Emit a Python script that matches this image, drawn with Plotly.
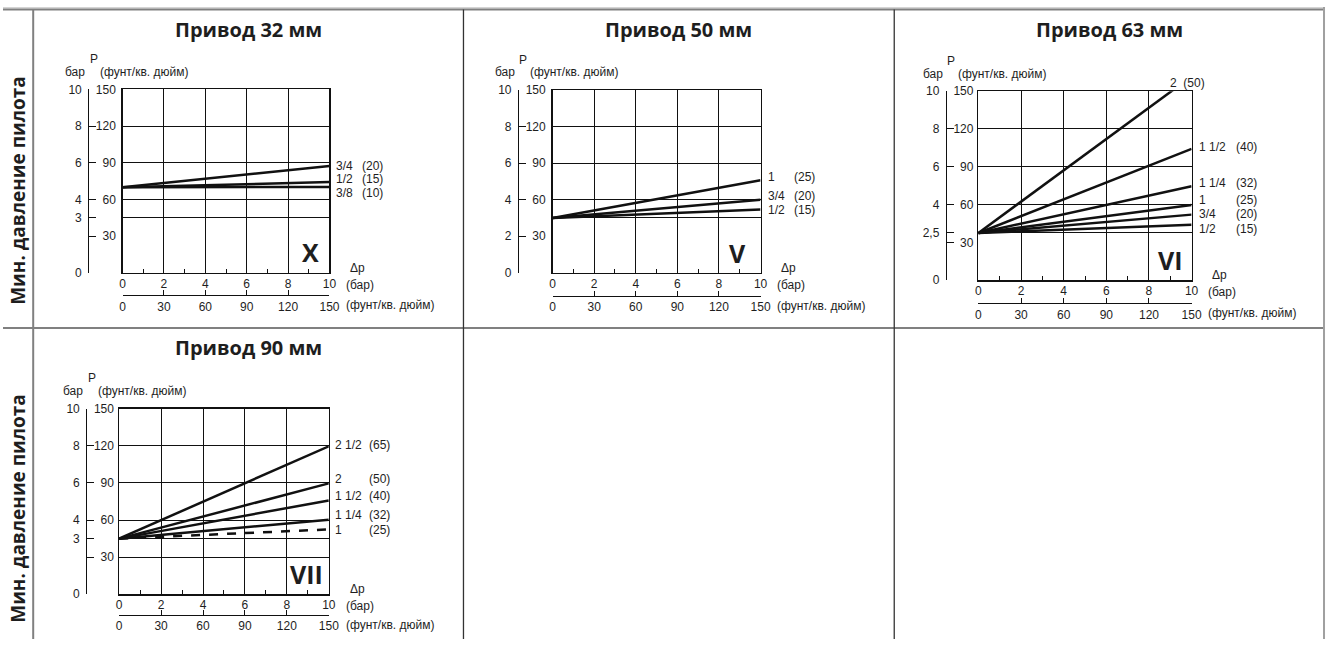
import plotly.graph_objects as go

W, H = 1335, 646

# ---------------- data ----------------
dp_bar = [0, 10]  # Δp extent of every curve, bar

titles = ["Привод 32 мм", "Привод 50 мм", "Привод 63 мм", "Привод 90 мм"]
romans = ["X", "V", "VI", "VII"]
row_header = "Мин. давление пилота"

# Привод 32 мм (X)
a32_sizes = ["3/4", "1/2", "3/8"]
a32_dn = ["(20)", "(15)", "(10)"]
a32_start = [4.67, 4.67, 4.67]
a32_end = [5.82, 4.95, 4.68]
a32_dash = ["solid", "solid", "solid"]

# Привод 50 мм (V)
a50_sizes = ["1", "3/4", "1/2"]
a50_dn = ["(25)", "(20)", "(15)"]
a50_start = [3.0, 3.0, 3.0]
a50_end = [5.06, 3.99, 3.46]
a50_dash = ["solid", "solid", "solid"]

# Привод 63 мм (VI)
a63_sizes = ["2", "1 1/2", "1 1/4", "1", "3/4", "1/2"]
a63_dn = ["(50)", "(40)", "(32)", "(25)", "(20)", "(15)"]
a63_start = [2.5, 2.5, 2.5, 2.5, 2.5, 2.5]
a63_end = [10.78, 6.95, 4.97, 3.98, 3.47, 2.93]
a63_dash = ["solid"] * 6

# Привод 90 мм (VII)
a90_sizes = ["2 1/2", "2", "1 1/2", "1 1/4", "1"]
a90_dn = ["(65)", "(50)", "(40)", "(32)", "(25)"]
a90_start = [3.0, 3.0, 3.0, 3.0, 3.0]
a90_end = [7.98, 5.98, 5.06, 4.02, 3.5]
a90_dash = ["solid", "solid", "solid", "solid", "dash"]

# axis ticks
x_bar_ticks = [0, 2, 4, 6, 8, 10]
x_bar_minor = [1, 3, 5, 7, 9]
x_psi_ticks = [0, 30, 60, 90, 120, 150]
y_psi_ticks = [30, 60, 90, 120, 150]
y_bar_vals = [[0, 2, 3, 4, 6, 8, 10], [0, 2, 4, 6, 8, 10],
              [0, 2, 2.5, 4, 6, 8, 10], [0, 2, 3, 4, 6, 8, 10]]
y_bar_text = [["0", "", "3", "4", "6", "8", "10"], ["0", "2", "4", "6", "8", "10"],
              ["0", "", "2,5", "4", "6", "8", "10"], ["0", "", "3", "4", "6", "8", "10"]]
h_grid = [[3, 4, 6, 8], [3, 4, 6, 8], [2.5, 4, 6, 8], [2, 3, 4, 6, 8]]

panels_data = [
    (a32_sizes, a32_dn, a32_start, a32_end, a32_dash),
    (a50_sizes, a50_dn, a50_start, a50_end, a50_dash),
    (a63_sizes, a63_dn, a63_start, a63_end, a63_dash),
    (a90_sizes, a90_dn, a90_start, a90_end, a90_dash),
]

# ---------------- layout / style (pixels) ----------------
geo = [
    dict(L=120.7, R=329.7, T=84.3, B=271.7, yline=86, psiline=294.3, cx=248, ty=23),
    dict(L=555, R=765, T=84.7, B=271.7, yline=520, psiline=295, cx=682.5, ty=23),
    dict(L=985, R=1200.3, T=86, B=279.3, yline=952, psiline=302.7, cx=1117.5, ty=23),
    dict(L=117.3, R=329, T=410.7, B=600.3, yline=84, psiline=621, cx=248, ty=348),
]
label_y = [[5.85, 5.12, 4.36], [5.26, 4.22, 3.42],
           [10.0, 7.07, 5.14, 4.23, 3.49, 2.72], [8.05, 6.22, 5.30, 4.25, 3.44]]
frac_dx = [4.5, 5, 5, 4]
dn_dx = [31, 31, 42, 38.7]
roman_pos = [(9.06, 1.13), (8.89, 1.07), (9.01, 1.05), (8.95, 1.07)]

TXT = "#1e1e1e"
LINE = "#111111"
FONT = "Liberation Sans, Arial, sans-serif"
BOLD = "Open Sans, Noto Sans, sans-serif"


def fx(px):
    return px / W


def fy(py):
    return 1 - py / H


fig = go.Figure()
layout = dict(
    width=W, height=H, margin=dict(l=0, r=0, t=0, b=0, pad=0),
    paper_bgcolor="white", plot_bgcolor="white", showlegend=False,
    font=dict(family=FONT, size=12, color=TXT),
)
annotations = []
shapes = []


def ax_name(prefix, n):
    return prefix + ("" if n == 1 else str(n))


for i, g in enumerate(geo):
    xa, xb = 2 * i + 1, 2 * i + 2
    ya, yb, yc = 3 * i + 1, 3 * i + 2, 3 * i + 3
    xr_a, xr_b = ax_name("x", xa), ax_name("x", xb)
    yr_a, yr_b, yr_c = ax_name("y", ya), ax_name("y", yb), ax_name("y", yc)

    layout[ax_name("xaxis", xa)] = dict(
        domain=[fx(g["L"]), fx(g["R"])], anchor=yr_a, range=dp_bar,
        tickmode="array", tickvals=x_bar_ticks, ticks="inside", ticklen=4,
        tickcolor=LINE, showgrid=True, gridcolor=LINE, gridwidth=1,
        showline=True, mirror=True, linecolor=LINE, linewidth=1.3,
        zeroline=False, ticklabelstandoff=-1,
        minor=dict(tickmode="array", tickvals=x_bar_minor, ticks="inside",
                   ticklen=4, tickcolor=LINE, showgrid=False),
        tickfont=dict(size=12, color=TXT, family=FONT), fixedrange=True,
    )
    layout[ax_name("yaxis", ya)] = dict(
        domain=[fy(g["B"]), fy(g["T"])], anchor=xr_a, range=[0, 10],
        tickmode="array", tickvals=h_grid[i], showticklabels=False, ticks="",
        showgrid=True, gridcolor=LINE, gridwidth=1,
        showline=True, mirror=True, linecolor=LINE, linewidth=1.3,
        zeroline=False, fixedrange=True,
    )
    layout[ax_name("xaxis", xb)] = dict(
        overlaying=xr_a, anchor="free", position=fy(g["psiline"]), side="bottom",
        range=[0, 150], tickmode="array", tickvals=x_psi_ticks,
        ticks="inside", ticklen=5, tickcolor=LINE, showline=True,
        linecolor=LINE, linewidth=1.3, showgrid=False, zeroline=False,
        tickfont=dict(size=12, color=TXT, family=FONT), fixedrange=True,
    )
    layout[ax_name("yaxis", yb)] = dict(
        overlaying=yr_a, anchor="free", position=fx(g["yline"]), side="left",
        range=[0, 10], tickmode="array", tickvals=y_bar_vals[i], ticktext=y_bar_text[i],
        ticks="inside", ticklen=7, tickcolor=LINE, showline=True, linecolor=LINE,
        linewidth=1.3, showgrid=False, zeroline=False, ticklabelstandoff=4,
        tickfont=dict(size=12, color=TXT, family=FONT), fixedrange=True,
    )
    layout[ax_name("yaxis", yc)] = dict(
        overlaying=yr_a, anchor="free", position=fx(g["yline"] + 28), side="left",
        range=[0, 150], tickmode="array", tickvals=y_psi_ticks, ticks="",
        showline=False, showgrid=False, zeroline=False,
        tickfont=dict(size=12, color=TXT, family=FONT), fixedrange=True,
    )

    for xr, yr in ((xr_b, yr_a), (xr_a, yr_b), (xr_a, yr_c)):
        fig.add_trace(go.Scatter(x=[], y=[], xaxis=xr, yaxis=yr, hoverinfo="skip",
                                 showlegend=False))

    sizes, dns, starts, ends, dashes = panels_data[i]
    for k in range(len(sizes)):
        fig.add_trace(go.Scatter(
            x=dp_bar, y=[starts[k], ends[k]], mode="lines", xaxis=xr_a, yaxis=yr_a,
            line=dict(color=LINE, width=2.5, dash=dashes[k]),
            name=f"{sizes[k]} {dns[k]}", hoverinfo="skip", showlegend=False,
        ))
        if i == 2 and k == 0:
            # label of the line that leaves the plot through its top edge
            annotations.append(dict(
                x=8.9, y=label_y[i][k], xref=xr_a, yref=yr_a, xanchor="left",
                yanchor="middle", yshift=8.5, text=f"{sizes[k]}&nbsp;&nbsp;{dns[k]}",
                showarrow=False, font=dict(size=12, color=TXT, family=FONT)))
            continue
        annotations.append(dict(
            x=10, y=label_y[i][k], xref=xr_a, yref=yr_a, xanchor="left", yanchor="middle",
            xshift=frac_dx[i], text=sizes[k], showarrow=False,
            font=dict(size=12, color=TXT, family=FONT)))
        annotations.append(dict(
            x=10, y=label_y[i][k], xref=xr_a, yref=yr_a, xanchor="left", yanchor="middle",
            xshift=dn_dx[i], text=dns[k], showarrow=False,
            font=dict(size=12, color=TXT, family=FONT)))

    annotations.append(dict(
        x=roman_pos[i][0], y=roman_pos[i][1], xref=xr_a, yref=yr_a, text=f"<b>{romans[i]}</b>",
        showarrow=False, xanchor="center", yanchor="middle",
        font=dict(size=25, color=TXT, family=BOLD)))

    annotations.append(dict(
        x=fx(g["cx"]), y=fy(g["ty"]), xref="paper", yref="paper", text=f"<b>{titles[i]}</b>",
        showarrow=False, xanchor="center", yanchor="middle",
        font=dict(size=20, color=TXT, family=BOLD)))

    annotations += [
        dict(x=fx(g["yline"] - 1), y=fy(g["T"] - 18), xref="paper", yref="paper", text="бар",
             xanchor="right", yanchor="middle", showarrow=False,
             font=dict(size=12, color=TXT, family=FONT)),
        dict(x=fx(g["yline"] + 5.5), y=fy(g["T"] - 31), xref="paper", yref="paper", text="P",
             xanchor="center", yanchor="middle", showarrow=False,
             font=dict(size=12, color=TXT, family=FONT)),
        dict(x=fx(g["yline"] + 10), y=fy(g["T"] - 18), xref="paper", yref="paper",
             text="(фунт/кв. дюйм)", xanchor="left", yanchor="middle", showarrow=False,
             font=dict(size=12, color=TXT, family=FONT)),
        dict(x=fx(g["R"] + 28.5), y=fy(g["B"] - 5), xref="paper", yref="paper", text="Δp",
             xanchor="center", yanchor="middle", showarrow=False,
             font=dict(size=12, color=TXT, family=FONT)),
        dict(x=fx(g["R"] + 15), y=fy(g["B"] + 12), xref="paper", yref="paper", text="(бар)",
             xanchor="left", yanchor="middle", showarrow=False,
             font=dict(size=12, color=TXT, family=FONT)),
        dict(x=fx(g["R"] + 15), y=fy(g["psiline"] + 10.5), xref="paper", yref="paper",
             text="(фунт/кв. дюйм)", xanchor="left", yanchor="middle", showarrow=False,
             font=dict(size=12, color=TXT, family=FONT)),
    ]

for cy in (187, 512):
    annotations.append(dict(
        x=fx(15), y=fy(cy), xref="paper", yref="paper", text=f"<b>{row_header}</b>",
        textangle=-90, showarrow=False, xanchor="center", yanchor="middle",
        font=dict(size=19, color=TXT, family=BOLD)))

GRAY = "#808080"
shapes += [
    dict(type="rect", xref="paper", yref="paper", x0=0, x1=1, y0=fy(1.5), y1=1,
         fillcolor="#d4d4d4", line=dict(width=0), layer="below"),
    dict(type="line", xref="paper", yref="paper", x0=0, x1=1, y0=fy(2.5), y1=fy(2.5),
         line=dict(color=GRAY, width=2)),
    dict(type="line", xref="paper", yref="paper", x0=0, x1=1, y0=fy(328), y1=fy(328),
         line=dict(color=GRAY, width=2)),
    dict(type="line", xref="paper", yref="paper", x0=fx(30.5), x1=fx(30.5), y0=0, y1=fy(2.5),
         line=dict(color=GRAY, width=2)),
    dict(type="line", xref="paper", yref="paper", x0=fx(465), x1=fx(465), y0=0, y1=fy(2.5),
         line=dict(color="#333333", width=1.3)),
    dict(type="line", xref="paper", yref="paper", x0=fx(900), x1=fx(900), y0=0, y1=fy(2.5),
         line=dict(color="#333333", width=1.3)),
    dict(type="line", xref="paper", yref="paper", x0=fx(1334), x1=fx(1334), y0=0, y1=1,
         line=dict(color="#a0a0a0", width=2)),
]

layout["annotations"] = annotations
layout["shapes"] = shapes
fig.update_layout(**layout)
fig.write_html(
    "out.html",
    config={"displayModeBar": False, "staticPlot": True},
    post_script="document.body.style.margin='0';document.body.style.overflow='hidden';",
)
